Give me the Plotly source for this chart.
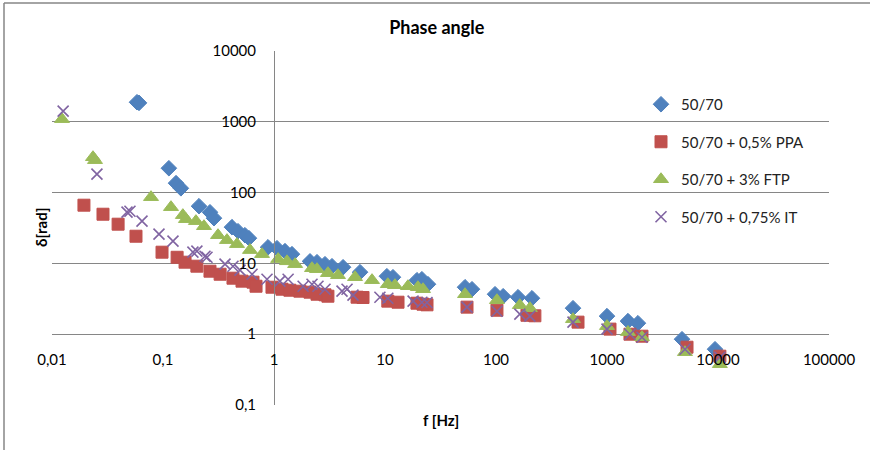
import plotly.graph_objects as go

# ---- data (frequency f [Hz], phase angle delta [rad]) ----
f_base = [0.0583, 0.0608, 0.113, 0.131, 0.145, 0.211, 0.265, 0.288, 0.418, 0.474, 0.548, 0.595,
          0.883, 1.064, 1.256, 1.452, 2.11, 2.44, 2.88, 3.33, 4.19, 5.96, 10.4, 11.8, 19.4, 21.5,
          24.4, 52.6, 60.8, 98, 116, 158, 211, 494, 1000, 1545, 1900, 4740, 9400]
d_base = [1890, 1850, 221, 136, 115, 64.3, 52.8, 43.5, 32.5, 28.5, 25.0, 22.7,
          16.9, 16.4, 14.9, 13.5, 10.7, 10.4, 9.75, 9.13, 8.83, 7.51, 6.59, 6.38, 5.79, 5.98,
          5.08, 4.61, 4.32, 3.67, 3.44, 3.33, 3.22, 2.33, 1.80, 1.53, 1.43, 0.85, 0.614]

f_ppa = [0.0194, 0.0288, 0.0394, 0.0571, 0.098, 0.134, 0.158, 0.202, 0.265, 0.327, 0.427, 0.515,
         0.647, 0.689, 0.959, 1.18, 1.39, 1.71, 2.11, 2.44, 2.88, 3.06, 5.6, 6.34, 10.6, 13.1,
         19.4, 22.0, 23.9, 54.8, 102, 190, 224, 548, 1064, 1610, 2066, 5260, 10400]
d_ppa = [66.4, 49.5, 35.8, 24.2, 14.4, 12.2, 10.4, 9.13, 7.76, 7.03, 6.18, 5.61,
         5.43, 4.76, 4.61, 4.32, 4.18, 4.05, 3.92, 3.67, 3.6, 3.44, 3.33, 3.3, 2.93, 2.83,
         2.74, 2.65, 2.6, 2.41, 2.18, 1.85, 1.82, 1.48, 1.18, 1.0, 0.937, 0.655, 0.489]

f_ftp = [0.0123, 0.0234, 0.0244, 0.078, 0.118, 0.151, 0.161, 0.198, 0.234, 0.313, 0.377, 0.464,
         0.608, 0.78, 1.09, 1.31, 1.55, 2.2, 2.44, 3.06, 3.77, 5.37, 7.64, 10.6, 12.3, 16.1,
         19.8, 22.0, 52.6, 102, 164, 202, 494, 1000, 1545, 2066, 5040, 10400]
d_ftp = [1089, 316, 287, 86.1, 62.2, 48.0, 42.1, 39.5, 33.5, 25.0, 21.3, 18.7,
         15.4, 13.5, 11.5, 10.7, 9.75, 8.55, 8.28, 7.27, 6.81, 6.38, 5.79, 5.08, 4.92, 4.76,
         4.61, 4.32, 3.67, 3.02, 2.57, 2.33, 1.63, 1.30, 1.07, 0.907, 0.557, 0.377]

f_it = [0.0126, 0.0254, 0.0474, 0.0504, 0.0647, 0.092, 0.123, 0.186, 0.202, 0.239, 0.249, 0.362,
        0.427, 0.494, 0.634, 0.865, 1.13, 1.34, 1.83, 2.2, 2.49, 2.88, 4.1, 4.55, 5.15, 9.0,
        10.6, 17.9, 21.5, 23.9, 54.8, 102, 164, 202, 494, 1000, 1610, 2066, 5040, 10400]
d_it = [1413, 182, 52.9, 54.6, 39.5, 25.9, 20.6, 14.4, 14.9, 12.6, 12.2, 9.75,
        9.13, 8.02, 7.03, 5.98, 5.61, 5.98, 4.76, 5.08, 4.76, 4.32, 4.05, 4.32, 3.56, 3.33,
        3.22, 2.93, 2.83, 2.8, 2.41, 2.11, 1.92, 1.80, 1.48, 1.18, 1.0, 0.907, 0.614, 0.473]

series_names = ["50/70", "50/70 + 0,5% PPA", "50/70 + 3% FTP", "50/70 + 0,75% IT"]

y_tickvals = [0.1, 1, 10, 100, 1000, 10000]
y_ticktext = ["0,1", "1", "10", "100", "1000", "10000"]
x_tickvals = [0.01, 0.1, 1, 10, 100, 1000, 10000, 100000]
x_ticktext = ["0,01", "0,1", "1", "10", "100", "1000", "10000", "100000"]

FONT = "Lato"
GRID = "#868686"

fig = go.Figure()
fig.add_trace(go.Scatter(x=f_base, y=d_base, mode="markers", name=series_names[0], legendgroup="a",
                         marker=dict(symbol="diamond", size=12, color="#4F81BD",
                                     line=dict(width=1, color="#4F81BD"))))
fig.add_trace(go.Scatter(x=f_ppa, y=d_ppa, mode="markers", name=series_names[1], legendgroup="b",
                         marker=dict(symbol="square", size=12, color="#C0504D",
                                     line=dict(width=1, color="#C0504D"))))
fig.add_trace(go.Scatter(x=f_ftp, y=d_ftp, mode="markers", name=series_names[2], legendgroup="c",
                         marker=dict(symbol="triangle-up", size=13, color="#9BBB59",
                                     line=dict(width=1, color="#9BBB59"))))
fig.add_trace(go.Scatter(x=f_it, y=d_it, mode="markers", name=series_names[3], legendgroup="d",
                         marker=dict(symbol="x-thin", size=11, color="#8064A2",
                                     line=dict(width=1.6, color="#8064A2"))))

# frame lines (left and top edges of the chart area), in paper units
fx = lambda px: (px - 52) / 777
fy = lambda py: (405 - py) / 354

fig.update_layout(
    width=870, height=450,
    margin=dict(l=52, r=41, t=51, b=45),
    paper_bgcolor="white", plot_bgcolor="white",
    font=dict(family=FONT, size=15, color="#000000"),
    title=dict(text="<b>Phase angle</b>", x=0.502, xanchor="center", y=1 - 28 / 450, yanchor="middle",
               font=dict(family=FONT, size=18, color="#000000")),
    showlegend=True,
    legend=dict(x=fx(641), y=fy(88), xanchor="left", yanchor="top",
                bgcolor="rgba(0,0,0,0)", traceorder="grouped", tracegroupgap=15,
                font=dict(family=FONT, size=15, color="#222222")),
    xaxis=dict(type="log", range=[-2, 5], anchor="free", position=0.2,
               showgrid=False, zeroline=False, showline=False,
               tickvals=x_tickvals, ticktext=x_ticktext,
               ticks="outside", ticklen=12, tickcolor="rgba(0,0,0,0)",
               tickfont=dict(family=FONT, size=15, color="#000000")),
    yaxis=dict(type="log", range=[-1, 4], anchor="free", position=2 / 7,
               showgrid=True, gridcolor=GRID, gridwidth=1, zeroline=False,
               showline=True, linecolor=GRID, linewidth=1,
               tickvals=y_tickvals, ticktext=y_ticktext,
               ticks="outside", ticklen=15, tickcolor="rgba(0,0,0,0)",
               tickfont=dict(family=FONT, size=15, color="#000000")),
    annotations=[
        dict(text="<b>f [Hz]</b>", xref="paper", yref="paper", x=0.5, y=fy(420),
             xanchor="center", yanchor="middle", showarrow=False,
             font=dict(family=FONT, size=15, color="#000000")),
        dict(text="<b>δ[rad]</b>", xref="paper", yref="paper", x=fx(41), y=0.5,
             xanchor="center", yanchor="middle", showarrow=False, textangle=-90,
             font=dict(family=FONT, size=15, color="#000000")),
    ],
    shapes=[
        dict(type="line", xref="paper", yref="paper", x0=fx(4), x1=fx(4), y0=fy(460), y1=fy(3),
             line=dict(color=GRID, width=1.5), layer="below"),
        dict(type="line", xref="paper", yref="paper", x0=fx(4), x1=fx(880), y0=fy(3), y1=fy(3),
             line=dict(color=GRID, width=1.5), layer="below"),
    ],
)

fig.write_html("out.html", config={"displayModeBar": False},
               post_script="document.body.style.margin='0';document.body.style.overflow='hidden';")
